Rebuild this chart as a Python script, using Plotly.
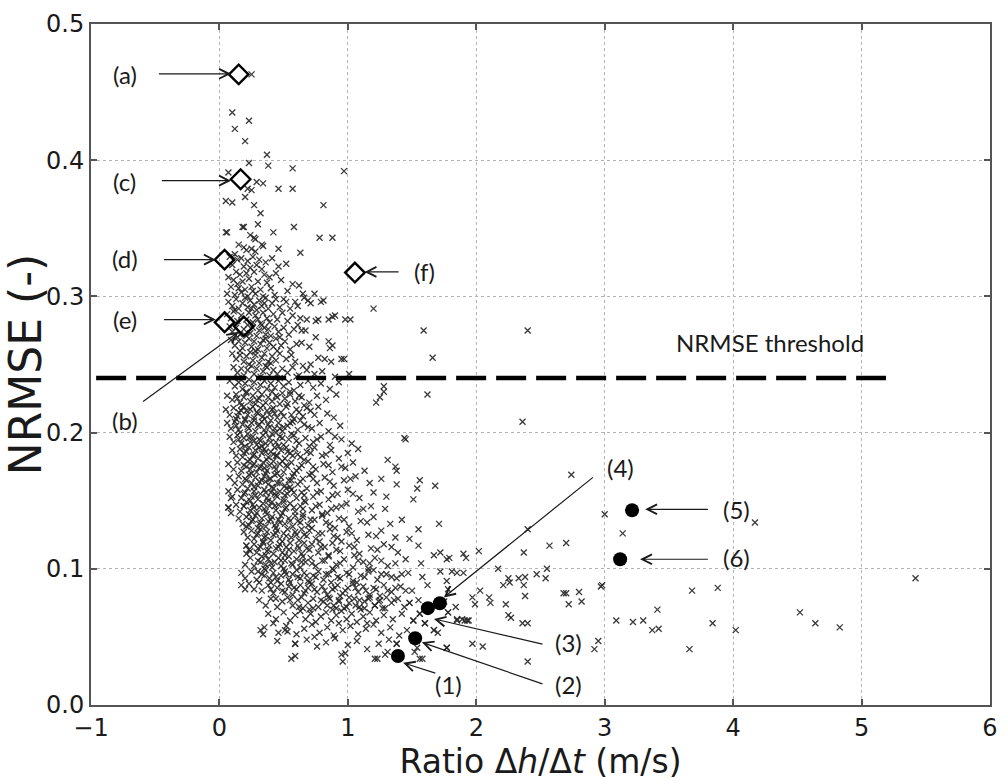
import plotly.graph_objects as go

# ---- scattered runs: (ratio dh/dt [m/s], NRMSE [-]) ----
upper_sparse = [
    (0.25,0.463),(0.10,0.435),(0.23,0.429),(0.12,0.423),(0.20,0.414),(0.37,0.404),(0.23,0.398),(0.38,0.396),
    (0.57,0.394),(0.07,0.391),(0.97,0.392),(0.34,0.383),(0.29,0.384),(0.22,0.379),(0.25,0.378),(0.46,0.379),
    (0.57,0.379),(0.05,0.370),(0.10,0.369),(0.20,0.373),(0.27,0.367),(0.81,0.367),(0.32,0.361),(0.05,0.347),
    (0.06,0.347),(0.18,0.351),(0.19,0.351),(0.30,0.353),(0.42,0.347),(0.58,0.351),(0.24,0.345),(0.27,0.343),
    (0.28,0.342),(0.78,0.343),(0.88,0.343),(0.33,0.338),(0.34,0.337),(0.46,0.335),(0.63,0.332),(0.15,0.338),
    (0.19,0.336),(0.21,0.334),(0.25,0.335),(0.28,0.333),(0.12,0.331),
    (1.20,0.291),(1.59,0.275),(1.66,0.255),(1.01,0.243),(1.28,0.234),(1.28,0.230),(1.25,0.226),(1.22,0.222),
    (1.62,0.228),(1.45,0.195),(2.40,0.275),(2.36,0.208),
]

upper_band = [
    (0.08,0.329),(0.14,0.327),(0.17,0.328),(0.22,0.326),(0.26,0.329),(0.31,0.327),(0.36,0.325),(0.41,0.328),
    (0.10,0.323),(0.19,0.322),(0.24,0.321),(0.29,0.323),(0.33,0.320),(0.46,0.322),(0.52,0.324),(0.13,0.318),
    (0.16,0.316),(0.21,0.317),(0.27,0.318),(0.35,0.316),(0.39,0.314),(0.44,0.317),(0.07,0.314),(0.11,0.312),
    (0.18,0.311),(0.23,0.313),(0.30,0.311),(0.37,0.310),(0.48,0.312),(0.57,0.309),(0.09,0.307),(0.15,0.306),
    (0.20,0.305),(0.25,0.307),(0.32,0.305),(0.40,0.306),(0.53,0.304),(0.62,0.308),(0.06,0.302),(0.12,0.301),
    (0.17,0.303),(0.22,0.300),(0.28,0.302),(0.34,0.300),(0.43,0.301),(0.65,0.302),(0.74,0.302),(0.50,0.298),
    (0.69,0.297),(0.79,0.296),(0.26,0.304),(0.14,0.309),
    (0.07,0.296),(0.10,0.293),(0.13,0.298),(0.15,0.291),(0.18,0.295),(0.20,0.299),(0.22,0.292),(0.24,0.297),
    (0.27,0.294),(0.29,0.290),(0.31,0.297),(0.33,0.293),(0.36,0.299),(0.38,0.291),(0.41,0.295),(0.44,0.298),
    (0.47,0.292),(0.52,0.296),(0.55,0.291),(0.59,0.296),(0.61,0.293),(0.66,0.299),(0.71,0.295),(0.81,0.297),
    (0.35,0.295),(0.25,0.291),(0.12,0.290),
    (0.06,0.287),(0.09,0.284),(0.11,0.289),(0.14,0.282),(0.17,0.286),(0.21,0.283),(0.23,0.288),(0.26,0.281),
    (0.28,0.286),(0.30,0.283),(0.34,0.288),(0.37,0.284),(0.39,0.281),(0.42,0.287),(0.45,0.283),(0.49,0.288),
    (0.53,0.282),(0.57,0.286),(0.63,0.284),(0.68,0.283),(0.75,0.282),(0.77,0.283),(0.85,0.283),(0.88,0.285),
    (0.90,0.286),(0.98,0.283),(1.02,0.283),(0.32,0.280),
    (0.08,0.278),(0.10,0.274),(0.13,0.277),(0.16,0.272),(0.19,0.276),(0.22,0.279),(0.24,0.273),(0.26,0.277),
    (0.29,0.271),(0.31,0.275),(0.33,0.279),(0.36,0.272),(0.38,0.276),(0.40,0.271),(0.43,0.278),(0.46,0.274),
    (0.50,0.277),(0.54,0.272),(0.58,0.276),(0.64,0.275),(0.67,0.275),(0.75,0.270),(0.21,0.271),(0.35,0.277),
    (0.47,0.270),(0.61,0.279),(0.14,0.270),
    (0.09,0.268),(0.12,0.264),(0.15,0.267),(0.18,0.262),(0.20,0.266),(0.23,0.269),(0.25,0.263),(0.27,0.267),
    (0.30,0.261),(0.32,0.265),(0.34,0.268),(0.37,0.262),(0.39,0.266),(0.42,0.263),(0.44,0.269),(0.48,0.264),
    (0.51,0.267),(0.55,0.261),(0.60,0.265),(0.64,0.266),(0.70,0.263),(0.85,0.267),(0.88,0.264),(0.86,0.262),
    (0.28,0.260),(0.45,0.260),(0.16,0.260),(0.36,0.269),
]

mid_band = [
    (0.10,0.258),(0.13,0.254),(0.16,0.257),(0.19,0.252),(0.21,0.256),(0.24,0.259),(0.26,0.253),(0.28,0.257),
    (0.31,0.251),(0.33,0.255),(0.35,0.258),(0.38,0.252),(0.41,0.256),(0.44,0.253),(0.47,0.258),(0.52,0.254),
    (0.56,0.257),(0.59,0.252),(0.65,0.249),(0.71,0.250),(0.77,0.255),(0.82,0.254),(0.87,0.252),(0.95,0.254),
    (0.97,0.254),(0.23,0.250),(0.40,0.251),
    (0.11,0.248),(0.14,0.244),(0.17,0.247),(0.19,0.242),(0.22,0.246),(0.25,0.249),(0.27,0.243),(0.29,0.247),
    (0.32,0.241),(0.34,0.245),(0.37,0.248),(0.39,0.242),(0.42,0.246),(0.45,0.243),(0.49,0.247),(0.53,0.244),
    (0.57,0.248),(0.62,0.242),(0.68,0.246),(0.74,0.243),(0.80,0.245),(0.90,0.241),(0.15,0.240),(0.30,0.240),
    (0.47,0.240),(0.60,0.241),(0.36,0.249),
    (0.08,0.238),(0.12,0.234),(0.15,0.237),(0.18,0.232),(0.20,0.236),(0.23,0.239),(0.25,0.233),(0.27,0.237),
    (0.30,0.231),(0.32,0.235),(0.35,0.238),(0.37,0.232),(0.40,0.236),(0.43,0.233),(0.46,0.238),(0.50,0.234),
    (0.54,0.237),(0.58,0.231),(0.63,0.235),(0.69,0.238),(0.73,0.233),(0.79,0.236),(0.86,0.232),(0.93,0.237),
    (0.21,0.230),(0.41,0.230),(0.55,0.230),
    (0.06,0.227),(0.10,0.224),(0.13,0.228),(0.16,0.222),(0.19,0.226),(0.21,0.229),(0.24,0.223),(0.26,0.227),
    (0.28,0.221),(0.31,0.225),(0.33,0.228),(0.36,0.222),(0.38,0.226),(0.41,0.223),(0.44,0.227),(0.47,0.221),
    (0.51,0.225),(0.55,0.228),(0.59,0.223),(0.64,0.226),(0.70,0.222),(0.76,0.227),(0.83,0.224),(0.91,0.228),
    (0.17,0.220),(0.34,0.220),(0.49,0.229),(0.66,0.220),
    (0.05,0.217),(0.08,0.213),(0.11,0.218),(0.14,0.212),(0.17,0.216),(0.19,0.219),(0.22,0.213),(0.24,0.217),
    (0.27,0.211),(0.29,0.215),(0.32,0.218),(0.34,0.212),(0.37,0.216),(0.39,0.213),(0.42,0.218),(0.45,0.211),
    (0.48,0.215),(0.52,0.219),(0.56,0.213),(0.60,0.217),(0.65,0.212),(0.71,0.216),(0.77,0.219),(0.84,0.214),
    (0.89,0.211),(0.13,0.210),(0.26,0.219),(0.35,0.210),(0.43,0.214),(0.58,0.210),(0.68,0.218),(0.20,0.210),
    (0.06,0.207),(0.09,0.203),(0.12,0.208),(0.15,0.202),(0.18,0.206),(0.20,0.209),(0.23,0.203),(0.25,0.207),
    (0.28,0.201),(0.30,0.205),(0.33,0.208),(0.35,0.202),(0.38,0.206),(0.40,0.209),(0.43,0.203),(0.46,0.207),
    (0.49,0.201),(0.53,0.205),(0.57,0.208),(0.61,0.202),(0.66,0.206),(0.72,0.203),(0.78,0.207),(0.85,0.201),
    (0.94,0.205),(0.16,0.200),(0.27,0.209),(0.36,0.200),(0.44,0.200),(0.63,0.209),(0.50,0.204),
    (0.08,0.197),(0.11,0.193),(0.14,0.198),(0.17,0.192),(0.19,0.196),(0.22,0.199),(0.24,0.193),(0.26,0.197),
    (0.29,0.191),(0.31,0.195),(0.34,0.198),(0.36,0.192),(0.39,0.196),(0.41,0.199),(0.44,0.193),(0.47,0.197),
    (0.50,0.191),(0.54,0.195),(0.58,0.198),(0.62,0.192),(0.67,0.196),(0.73,0.193),(0.79,0.197),(0.86,0.191),
    (0.95,0.195),(1.03,0.192),(0.20,0.190),(0.33,0.190),(0.46,0.190),(0.56,0.199),(0.70,0.190),(0.27,0.194),
    (0.10,0.187),(0.13,0.183),(0.16,0.188),(0.18,0.182),(0.21,0.186),(0.23,0.189),(0.26,0.183),(0.28,0.187),
    (0.30,0.181),(0.33,0.185),(0.35,0.188),(0.38,0.182),(0.40,0.186),(0.43,0.189),(0.45,0.183),(0.48,0.187),
    (0.51,0.181),(0.55,0.185),(0.59,0.188),(0.63,0.182),(0.68,0.186),(0.74,0.189),(0.80,0.183),(0.87,0.187),
    (0.93,0.181),(1.00,0.185),(1.08,0.188),(0.24,0.180),(0.37,0.180),(0.52,0.189),(0.66,0.180),(0.42,0.184),
    (0.31,0.189),(0.57,0.183),
]

low_band = [
    (0.07,0.177),(0.11,0.173),(0.14,0.178),(0.17,0.172),(0.19,0.176),(0.22,0.179),(0.24,0.173),(0.27,0.177),
    (0.29,0.171),(0.32,0.175),(0.34,0.178),(0.37,0.172),(0.39,0.176),(0.42,0.179),(0.44,0.173),(0.47,0.177),
    (0.50,0.171),(0.53,0.175),(0.56,0.178),(0.60,0.172),(0.64,0.176),(0.69,0.179),(0.75,0.173),(0.81,0.177),
    (0.88,0.171),(0.95,0.175),(1.04,0.178),(1.13,0.172),(0.25,0.170),(0.36,0.170),(0.49,0.179),(0.58,0.170),
    (0.72,0.170),(0.31,0.174),(0.45,0.170),
    (0.08,0.167),(0.12,0.163),(0.15,0.168),(0.18,0.162),(0.20,0.166),(0.23,0.169),(0.25,0.163),(0.28,0.167),
    (0.30,0.161),(0.33,0.165),(0.35,0.168),(0.38,0.162),(0.40,0.166),(0.43,0.169),(0.45,0.163),(0.48,0.167),
    (0.51,0.161),(0.54,0.165),(0.57,0.168),(0.61,0.162),(0.65,0.166),(0.70,0.169),(0.76,0.163),(0.82,0.167),
    (0.89,0.161),(0.97,0.165),(1.06,0.168),(1.17,0.163),(1.26,0.166),(0.27,0.160),(0.41,0.160),(0.55,0.160),
    (0.36,0.164),
    (0.07,0.157),(0.10,0.153),(0.14,0.158),(0.17,0.152),(0.20,0.156),(0.22,0.159),(0.25,0.153),(0.27,0.157),
    (0.30,0.151),(0.32,0.155),(0.35,0.158),(0.37,0.152),(0.40,0.156),(0.42,0.159),(0.45,0.153),(0.47,0.157),
    (0.50,0.151),(0.53,0.155),(0.56,0.158),(0.60,0.152),(0.64,0.156),(0.68,0.159),(0.73,0.153),(0.79,0.157),
    (0.85,0.151),(0.92,0.155),(1.00,0.158),(1.09,0.152),(1.20,0.156),(1.30,0.153),(0.24,0.150),(0.38,0.150),
    (0.52,0.159),(0.66,0.150),(0.44,0.154),
    (0.07,0.145),(0.09,0.141),(0.13,0.147),(0.16,0.142),(0.19,0.146),(0.21,0.149),(0.24,0.143),(0.26,0.147),
    (0.29,0.141),(0.31,0.145),(0.34,0.148),(0.36,0.142),(0.39,0.146),(0.41,0.149),(0.44,0.143),(0.46,0.147),
    (0.49,0.141),(0.52,0.145),(0.55,0.148),(0.59,0.142),(0.63,0.146),(0.67,0.149),(0.72,0.143),(0.78,0.147),
    (0.84,0.141),(0.91,0.145),(0.99,0.148),(1.08,0.142),(1.18,0.146),(1.29,0.144),(0.23,0.140),(0.37,0.140),
    (0.50,0.149),(0.65,0.140),(0.80,0.140),
    (0.15,0.137),(0.18,0.133),(0.21,0.138),(0.23,0.132),(0.26,0.136),(0.28,0.139),(0.31,0.133),(0.33,0.137),
    (0.36,0.131),(0.38,0.135),(0.41,0.138),(0.43,0.132),(0.46,0.136),(0.48,0.139),(0.51,0.133),(0.54,0.137),
    (0.57,0.131),(0.61,0.135),(0.65,0.138),(0.69,0.132),(0.74,0.136),(0.80,0.139),(0.86,0.133),(0.93,0.137),
    (1.01,0.131),(1.10,0.135),(1.20,0.138),(1.33,0.133),(1.42,0.136),(0.30,0.130),(0.44,0.130),(0.59,0.139),
    (0.72,0.130),(0.90,0.130),
    (0.19,0.127),(0.22,0.123),(0.25,0.128),(0.27,0.122),(0.30,0.126),(0.32,0.129),(0.35,0.123),(0.37,0.127),
    (0.40,0.121),(0.42,0.125),(0.45,0.128),(0.47,0.122),(0.50,0.126),(0.53,0.129),(0.56,0.123),(0.59,0.127),
    (0.62,0.121),(0.66,0.125),(0.70,0.128),(0.75,0.122),(0.80,0.126),(0.86,0.129),(0.92,0.123),(0.99,0.127),
    (1.07,0.121),(1.16,0.125),(1.26,0.128),(1.37,0.123),(0.34,0.120),(0.49,0.120),(0.64,0.129),(0.78,0.120),
    (0.95,0.120),
    (0.21,0.117),(0.24,0.113),(0.27,0.118),(0.29,0.112),(0.32,0.116),(0.34,0.119),(0.37,0.113),(0.39,0.117),
    (0.42,0.111),(0.44,0.115),(0.47,0.118),(0.49,0.112),(0.52,0.116),(0.55,0.119),(0.58,0.113),(0.61,0.117),
    (0.64,0.111),(0.68,0.115),(0.72,0.118),(0.77,0.112),(0.82,0.116),(0.88,0.119),(0.94,0.113),(1.01,0.117),
    (1.09,0.111),(1.18,0.115),(1.28,0.118),(1.39,0.112),(0.36,0.110),(0.51,0.110),(0.66,0.119),(0.85,0.110),
    (1.05,0.110),
    (0.20,0.103),(0.24,0.108),(0.27,0.102),(0.30,0.106),(0.33,0.109),(0.36,0.103),(0.38,0.107),(0.41,0.101),
    (0.43,0.105),(0.46,0.108),(0.48,0.102),(0.51,0.106),(0.54,0.109),(0.57,0.103),(0.60,0.107),(0.63,0.101),
    (0.67,0.105),(0.71,0.108),(0.75,0.102),(0.80,0.106),(0.85,0.109),(0.91,0.103),(0.97,0.107),(1.04,0.101),
    (1.12,0.105),(1.21,0.108),(1.31,0.102),(1.57,0.104),(0.35,0.100),(0.50,0.100),(0.65,0.109),(0.88,0.100),
    (1.16,0.100),
    (0.20,0.093),(0.29,0.092),(0.33,0.096),(0.36,0.099),(0.39,0.093),(0.42,0.097),(0.45,0.091),(0.48,0.095),
    (0.51,0.098),(0.54,0.092),(0.57,0.096),(0.60,0.099),(0.63,0.093),(0.66,0.097),(0.69,0.091),(0.73,0.095),
    (0.77,0.098),(0.81,0.092),(0.85,0.096),(0.89,0.099),(0.94,0.093),(0.99,0.097),(1.04,0.091),(1.10,0.095),
    (1.16,0.098),(1.23,0.092),(1.30,0.096),(1.38,0.093),(1.47,0.097),(1.58,0.094),(1.72,0.098),(0.40,0.090),
    (0.55,0.090),(0.70,0.090),(0.87,0.090),(1.07,0.090),(1.20,0.099),(0.31,0.090),
    (0.23,0.089),(0.33,0.084),(0.38,0.088),(0.42,0.082),(0.45,0.086),(0.48,0.089),(0.51,0.083),(0.54,0.087),
    (0.57,0.081),(0.60,0.085),(0.63,0.088),(0.66,0.082),(0.69,0.086),(0.72,0.089),(0.76,0.083),(0.80,0.087),
    (0.84,0.081),(0.88,0.085),(0.92,0.088),(0.96,0.082),(1.00,0.086),(1.04,0.089),(1.08,0.083),(1.12,0.087),
    (1.17,0.081),(1.22,0.085),(1.28,0.088),(1.34,0.083),(1.41,0.087),(1.50,0.084),(1.62,0.088),(1.78,0.085),
    (0.94,0.080),(1.25,0.080),
]

base_band = [
    (0.31,0.077),(0.36,0.073),(0.40,0.078),(0.45,0.072),(0.49,0.076),(0.53,0.079),(0.57,0.073),(0.61,0.077),
    (0.65,0.071),(0.69,0.075),(0.73,0.078),(0.77,0.072),(0.81,0.076),(0.85,0.079),(0.89,0.073),(0.93,0.077),
    (0.97,0.071),(1.01,0.075),(1.05,0.078),(1.09,0.072),(1.13,0.076),(1.17,0.079),(1.21,0.073),(1.25,0.077),
    (1.29,0.071),(1.34,0.075),(1.39,0.078),(1.44,0.072),(1.48,0.075),(1.55,0.077),(1.63,0.073),(1.75,0.076),
    (1.84,0.072),(0.88,0.070),(1.10,0.070),(0.70,0.070),
    (0.38,0.067),(0.44,0.063),(0.50,0.068),(0.55,0.062),(0.59,0.066),(0.63,0.069),(0.67,0.063),(0.71,0.067),
    (0.75,0.061),(0.79,0.065),(0.83,0.068),(0.87,0.062),(0.91,0.066),(0.95,0.069),(0.99,0.063),(1.03,0.067),
    (1.07,0.061),(1.12,0.065),(1.17,0.068),(1.22,0.062),(1.28,0.066),(1.35,0.063),(1.42,0.067),(1.51,0.062),
    (1.56,0.067),(1.78,0.068),(1.85,0.062),(0.93,0.060),(1.15,0.060),
    (0.35,0.057),(0.46,0.053),(0.52,0.058),(0.60,0.052),(0.66,0.056),(0.72,0.059),(0.78,0.053),(0.84,0.057),
    (0.89,0.051),(0.96,0.055),(1.02,0.058),(1.08,0.052),(1.14,0.056),(1.20,0.059),(1.26,0.053),(1.33,0.057),
    (1.40,0.051),(1.46,0.055),(1.60,0.060),(1.67,0.055),(1.70,0.053),(0.74,0.050),
    (0.45,0.047),(0.59,0.045),(0.68,0.048),(0.76,0.043),(0.83,0.046),(0.90,0.049),(1.00,0.044),(1.07,0.047),
    (1.15,0.041),(1.24,0.045),(1.32,0.048),(1.38,0.045),(1.54,0.042),(1.77,0.042),
]

core_fill = [
    (0.14,0.225),(0.29,0.224),(0.45,0.226),(0.53,0.221),(0.62,0.227),
    (0.15,0.215),(0.21,0.216),(0.30,0.214),(0.41,0.217),(0.50,0.212),(0.62,0.215),(0.74,0.213),
    (0.13,0.205),(0.22,0.204),(0.31,0.206),(0.39,0.204),(0.47,0.203),(0.55,0.207),(0.69,0.204),
    (0.15,0.195),(0.23,0.196),(0.32,0.194),(0.40,0.193),(0.49,0.196),(0.60,0.194),(0.76,0.195),(0.90,0.197),
    (0.19,0.185),(0.27,0.184),(0.36,0.186),(0.44,0.183),(0.53,0.186),(0.61,0.184),(0.71,0.185),(0.83,0.184),
    (0.21,0.175),(0.26,0.176),(0.35,0.174),(0.43,0.175),(0.52,0.176),(0.62,0.174),(0.73,0.175),(0.85,0.176),
    (0.98,0.174),
    (0.21,0.165),(0.31,0.164),(0.39,0.166),(0.47,0.163),(0.56,0.165),(0.63,0.164),(0.73,0.166),(0.86,0.164),
    (1.02,0.166),
    (0.19,0.155),(0.28,0.154),(0.36,0.156),(0.43,0.155),(0.51,0.154),(0.58,0.156),(0.66,0.154),(0.76,0.156),
    (0.88,0.154),(1.04,0.155),
    (0.27,0.145),(0.35,0.144),(0.43,0.146),(0.51,0.144),(0.58,0.145),(0.65,0.144),(0.75,0.146),(0.87,0.144),
    (0.95,0.146),(1.12,0.144),
    (0.25,0.135),(0.32,0.134),(0.40,0.136),(0.47,0.134),(0.55,0.135),(0.63,0.134),(0.71,0.136),(0.83,0.134),
    (0.97,0.136),(1.15,0.134),
    (0.29,0.125),(0.36,0.124),(0.44,0.126),(0.52,0.124),(0.60,0.125),(0.68,0.124),(0.77,0.126),(0.89,0.124),
    (1.03,0.126),(1.22,0.124),
    (0.30,0.115),(0.38,0.114),(0.46,0.116),(0.54,0.114),(0.62,0.115),(0.70,0.114),(0.79,0.116),(0.91,0.114),
    (1.05,0.116),(1.23,0.114),(1.34,0.116),
    (0.32,0.105),(0.40,0.104),(0.48,0.106),(0.56,0.104),(0.64,0.105),(0.72,0.104),(0.82,0.106),(0.94,0.104),
    (1.08,0.106),(1.17,0.104),(1.26,0.106),(1.37,0.104),
    (0.35,0.095),(0.44,0.094),(0.52,0.096),(0.61,0.094),(0.68,0.095),(0.75,0.094),(0.83,0.096),(0.92,0.094),
    (1.01,0.096),(1.13,0.094),(1.26,0.096),(1.34,0.094),(1.42,0.096),
    (0.40,0.085),(0.49,0.084),(0.58,0.086),(0.67,0.084),(0.74,0.085),(0.82,0.084),(0.90,0.086),(0.98,0.084),
    (1.06,0.086),(1.14,0.084),(1.20,0.086),(1.31,0.084),(1.37,0.086),(1.45,0.084),
    (0.44,0.078),(0.55,0.077),(0.64,0.079),(0.79,0.077),(0.86,0.078),(0.93,0.076),(1.01,0.079),(1.09,0.077),
    (1.16,0.078),(1.24,0.076),(1.30,0.079),(1.36,0.077),
    (0.62,0.072),(0.73,0.071),(0.84,0.073),(0.91,0.071),(0.99,0.072),(1.06,0.073),(1.13,0.071),(1.21,0.073),
    (1.27,0.071),
]

edge_points = [
    (0.56,0.034),(0.59,0.036),(0.96,0.032),(0.95,0.037),(0.98,0.038),(1.21,0.034),(1.23,0.034),(1.29,0.037),
    (1.31,0.039),(1.56,0.034),(1.52,0.039),(1.58,0.034),(0.59,0.045),
    (0.32,0.055),(0.34,0.052),(0.51,0.055),(0.53,0.054),(0.42,0.060),(0.17,0.088),(0.20,0.085),(0.27,0.085),
    (0.17,0.097),(0.25,0.098),(0.30,0.098),(0.21,0.111),(0.23,0.114),(0.21,0.117),(0.21,0.131),(0.19,0.146),
    (0.07,0.145),(0.09,0.152),
    (1.48,0.075),(1.51,0.062),(1.56,0.067),(1.60,0.060),(1.67,0.055),(1.78,0.068),(1.85,0.063),(1.94,0.062),
    (1.77,0.042),(1.38,0.045),
]

tail_points = [
    (1.44,0.196),(1.31,0.180),(1.37,0.175),(1.38,0.172),(1.38,0.162),(1.54,0.159),(1.56,0.165),(1.51,0.151),
    (1.68,0.161),(1.55,0.129),(1.48,0.122),(1.55,0.117),(1.71,0.133),(1.45,0.107),(1.67,0.110),(1.72,0.112),
    (1.77,0.107),(1.79,0.108),(1.90,0.111),(1.92,0.108),(1.81,0.098),(1.85,0.097),(1.90,0.097),(1.77,0.091),
    (2.02,0.113),(2.17,0.100),(2.37,0.112),(2.40,0.129),(2.57,0.117),(2.70,0.119),(2.55,0.100),(2.54,0.093),
    (2.47,0.096),(2.74,0.169),(3.00,0.140),(3.14,0.126),(2.25,0.093),(2.33,0.093),(2.38,0.094),(2.21,0.088),
    (2.26,0.090),(2.37,0.088),(2.38,0.080),(2.03,0.084),(2.10,0.079),(2.11,0.075),(1.99,0.074),(1.97,0.079),
    (2.23,0.074),(2.25,0.066),(2.27,0.064),(2.36,0.060),(2.40,0.060),(2.68,0.082),(2.70,0.082),(2.80,0.083),
    (2.82,0.076),(2.72,0.074),(2.97,0.087),(2.95,0.047),(2.92,0.041),(2.40,0.032),(1.97,0.045),(2.05,0.043),
    (1.91,0.062),(1.93,0.062),(1.89,0.063),
    (4.17,0.134),(5.42,0.093),(2.98,0.088),(3.68,0.084),(3.88,0.086),(3.41,0.070),(3.09,0.062),(3.22,0.061),
    (3.30,0.062),(3.37,0.055),(3.42,0.056),(3.84,0.060),(4.02,0.055),(4.52,0.068),(4.64,0.060),(4.83,0.057),
    (3.66,0.041),
]

# ---- highlighted runs ----
diamond_labels = ["(a)", "(c)", "(d)", "(e)", "(b)", "(f)"]
diamond_ratio = [0.15, 0.165, 0.04, 0.04, 0.19, 1.055]
diamond_nrmse = [0.463, 0.386, 0.327, 0.281, 0.278, 0.3175]

circle_labels = ["(1)", "(2)", "(3)", "(4)", "(5)", "(6)"]
circle_ratio = [1.39, 1.524, 1.623, 1.716, 3.213, 3.120]
circle_nrmse = [0.036, 0.049, 0.0711, 0.0747, 0.143, 0.107]

threshold = 0.24
threshold_span = [-0.96, 5.19]

cloud = upper_sparse + upper_band + mid_band + low_band + base_band + core_fill + edge_points + tail_points
cloud_ratio = [p[0] for p in cloud]
cloud_nrmse = [p[1] for p in cloud]

fig = go.Figure()

fig.add_trace(go.Scatter(
    x=cloud_ratio, y=cloud_nrmse, mode="markers",
    marker=dict(symbol="x-thin", size=6, line=dict(width=1.3, color="rgba(35,35,35,0.9)")),
    hoverinfo="skip", showlegend=False,
))

fig.add_trace(go.Scatter(
    x=threshold_span, y=[threshold, threshold], mode="lines",
    line=dict(color="black", width=4.5, dash="30px,10px"),
    hoverinfo="skip", showlegend=False,
))

fig.add_trace(go.Scatter(
    x=diamond_ratio, y=diamond_nrmse, mode="markers",
    marker=dict(symbol="diamond-open", size=15, color="black", line=dict(width=2.4, color="black")),
    showlegend=False,
))

fig.add_trace(go.Scatter(
    x=circle_ratio, y=circle_nrmse, mode="markers",
    marker=dict(symbol="circle", size=14, color="black"),
    showlegend=False,
))

label_font = dict(family="Lato, Open Sans, sans-serif", size=24, color="#1a1a1a")

# labels: (text, label x, label y, arrow tail x, tail y, arrow tip x, tip y)
callouts = [
    ("(a)", -0.737, 0.4626, -0.483, 0.4634, 0.090, 0.4634),
    ("(c)", -0.737, 0.384, -0.460, 0.385, 0.090, 0.385),
    ("(d)", -0.737, 0.328, -0.444, 0.327, -0.028, 0.327),
    ("(e)", -0.737, 0.283, -0.444, 0.283, -0.028, 0.283),
    ("(b)", -0.737, 0.209, -0.606, 0.222, 0.150, 0.274),
    ("(f)", 1.600, 0.318, 1.407, 0.318, 1.130, 0.318),
    ("(1)", 1.786, 0.0151, 1.693, 0.023, 1.430, 0.031),
    ("(2)", 2.720, 0.0151, 2.527, 0.0151, 1.576, 0.046),
    ("(3)", 2.720, 0.046, 2.527, 0.0445, 1.670, 0.0632),
    ("(4)", 3.120, 0.1746, 2.920, 0.168, 1.747, 0.079),
    ("(5)", 4.023, 0.1437, 3.815, 0.1437, 3.315, 0.1437),
    ("(6)", 4.023, 0.1085, 3.815, 0.107, 3.275, 0.107),
]

for text, lx, ly, tx, ty, hx, hy in callouts:
    fig.add_annotation(x=hx, y=hy, ax=tx, ay=ty, xref="x", yref="y", axref="x", ayref="y",
                       text="", showarrow=True, arrowhead=5, arrowsize=1.6, arrowwidth=1.2,
                       arrowcolor="#1a1a1a", standoff=0, startstandoff=0)
    fig.add_annotation(x=lx, y=ly, xref="x", yref="y", text=text, showarrow=False, font=label_font)

fig.add_annotation(x=4.286, y=0.2665, xref="x", yref="y", text="NRMSE threshold",
                   showarrow=False, font=dict(family="Lato, Open Sans, sans-serif", size=24, color="#1a1a1a"))

axis_common = dict(
    showline=True, linecolor="#555555", linewidth=2, mirror="ticks",
    ticks="inside", ticklen=6, tickwidth=1.5, tickcolor="#555555",
    showgrid=True, gridcolor="#b5b5b5", griddash="dot", gridwidth=1,
    zeroline=False,
    tickfont=dict(family="DejaVu Sans", size=24, color="#1a1a1a"),
)

fig.update_xaxes(range=[-1, 6], dtick=1, tick0=0,
                 title=dict(text="Ratio Δ<i>h</i>/Δ<i>t</i> (m/s)", standoff=6,
                            font=dict(family="DejaVu Sans", size=33, color="#1a1a1a")),
                 **axis_common)
fig.update_yaxes(range=[0, 0.5], dtick=0.1, tick0=0, tickformat=".1f",
                 title=dict(text="NRMSE (-)", standoff=2,
                            font=dict(family="DejaVu Sans", size=44, color="#1a1a1a")),
                 **axis_common)

fig.update_layout(
    width=1008, height=781,
    margin=dict(l=91, r=10, t=20, b=65),
    paper_bgcolor="white", plot_bgcolor="white",
    showlegend=False,
)

fig.write_html("out.html")
